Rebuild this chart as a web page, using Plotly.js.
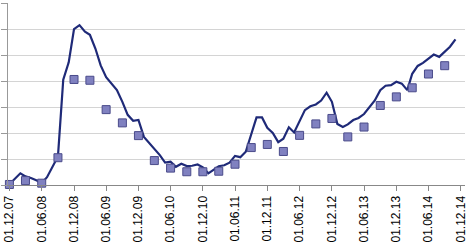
<!DOCTYPE html>
<html>
<head>
<meta charset="utf-8">
<script src="https://cdn.plot.ly/plotly-3.0.1.min.js"></script>
<style>html,body{margin:0;padding:0;background:#fff;}#chart{width:469px;height:245px;}</style>
</head>
<body>
<div id="chart"></div>
<script>
// Monthly series (line), starting 2007-12
const lineStart = [2007, 12];
const lineValues = [
  0.03, 0.25, 0.45, 0.33, 0.27, 0.18, 0.08, 0.30, 0.68, 1.10,
  4.05, 4.72, 6.00, 6.15, 5.90, 5.78, 5.25, 4.60, 4.15, 3.90,
  3.65, 3.20, 2.70, 2.47, 2.50, 1.85, 1.62, 1.38, 1.15, 0.86,
  0.90, 0.70, 0.82, 0.73, 0.74, 0.79, 0.68, 0.45, 0.60, 0.72,
  0.76, 0.86, 1.12, 1.07, 1.28, 1.98, 2.60, 2.60, 2.20, 2.00,
  1.65, 1.78, 2.22, 2.02, 2.45, 2.88, 3.03, 3.10, 3.25, 3.55,
  3.20, 2.35, 2.23, 2.33, 2.50, 2.58, 2.73, 2.98, 3.25, 3.65,
  3.82, 3.84, 3.97, 3.90, 3.65, 4.28, 4.58, 4.70, 4.88, 5.02,
  4.93, 5.12, 5.32, 5.60
];

// Quarterly series (square markers)
const markerDates = [
  '2007-12-01','2008-03-01','2008-06-01','2008-09-01','2008-12-01','2009-03-01','2009-06-01',
  '2009-09-01','2009-12-01','2010-03-01','2010-06-01','2010-09-01','2010-12-01','2011-03-01',
  '2011-06-01','2011-09-01','2011-12-01','2012-03-01','2012-06-01','2012-09-01','2012-12-01',
  '2013-03-01','2013-06-01','2013-09-01','2013-12-01','2014-03-01','2014-06-01','2014-09-01'
];
const markerValues = [
  0.02, 0.17, 0.07, 1.05, 4.06, 4.03, 2.90,
  2.39, 1.90, 0.94, 0.65, 0.51, 0.51, 0.53,
  0.80, 1.44, 1.56, 1.29, 1.91, 2.35, 2.56,
  1.85, 2.23, 3.06, 3.39, 3.74, 4.27, 4.59
];

// Tick labels
const tickDates = [
  '2007-12-01','2008-06-01','2008-12-01','2009-06-01','2009-12-01','2010-06-01','2010-12-01',
  '2011-06-01','2011-12-01','2012-06-01','2012-12-01','2013-06-01','2013-12-01','2014-06-01','2014-12-01'
];
const tickLabels = [
  '01.12.07','01.06.08','01.12.08','01.06.09','01.12.09','01.06.10','01.12.10',
  '01.06.11','01.12.11','01.06.12','01.12.12','01.06.13','01.12.13','01.06.14','01.12.14'
];

const lineDates = lineValues.map((v, i) => {
  const m0 = lineStart[1] - 1 + i;
  const y = lineStart[0] + Math.floor(m0 / 12);
  const m = (m0 % 12) + 1;
  return y + '-' + String(m).padStart(2, '0') + '-01';
});

const traces = [
  {
    x: lineDates, y: lineValues, type: 'scatter', mode: 'lines',
    line: {color: '#1f2a78', width: 2.2},
    hoverinfo: 'skip', cliponaxis: false
  },
  {
    x: markerDates, y: markerValues, type: 'scatter', mode: 'markers',
    marker: {symbol: 'square', size: 8, color: '#8081c0', line: {color: '#4a4b8a', width: 1}},
    hoverinfo: 'skip', cliponaxis: false
  }
];

const layout = {
  width: 469, height: 245,
  margin: {l: 8, r: 4, t: 3, b: 60, pad: 0},
  paper_bgcolor: '#ffffff', plot_bgcolor: '#ffffff',
  showlegend: false,
  font: {family: 'Liberation Sans, Arial, sans-serif', size: 12, color: '#000'},
  xaxis: {
    type: 'date',
    range: ['2007-11-23', '2014-12-25'],
    tickvals: tickDates, ticktext: tickLabels,
    tickangle: -90,
    ticks: 'outside', ticklen: 5, tickcolor: '#888', tickwidth: 1,
    showline: true, linecolor: '#888', linewidth: 1,
    showgrid: false, zeroline: false,
    tickfont: {size: 12, color: '#000'}
  },
  yaxis: {
    range: [0, 7.002], dtick: 1, tick0: 0,
    showticklabels: false,
    ticks: 'outside', ticklen: 6, tickcolor: '#999', tickwidth: 1,
    showline: true, linecolor: '#999', linewidth: 1,
    showgrid: true, gridcolor: '#d4d4d4', gridwidth: 1,
    zeroline: false
  }
};

Plotly.newPlot('chart', traces, layout, {displayModeBar: false, staticPlot: true});
</script>
</body>
</html>
